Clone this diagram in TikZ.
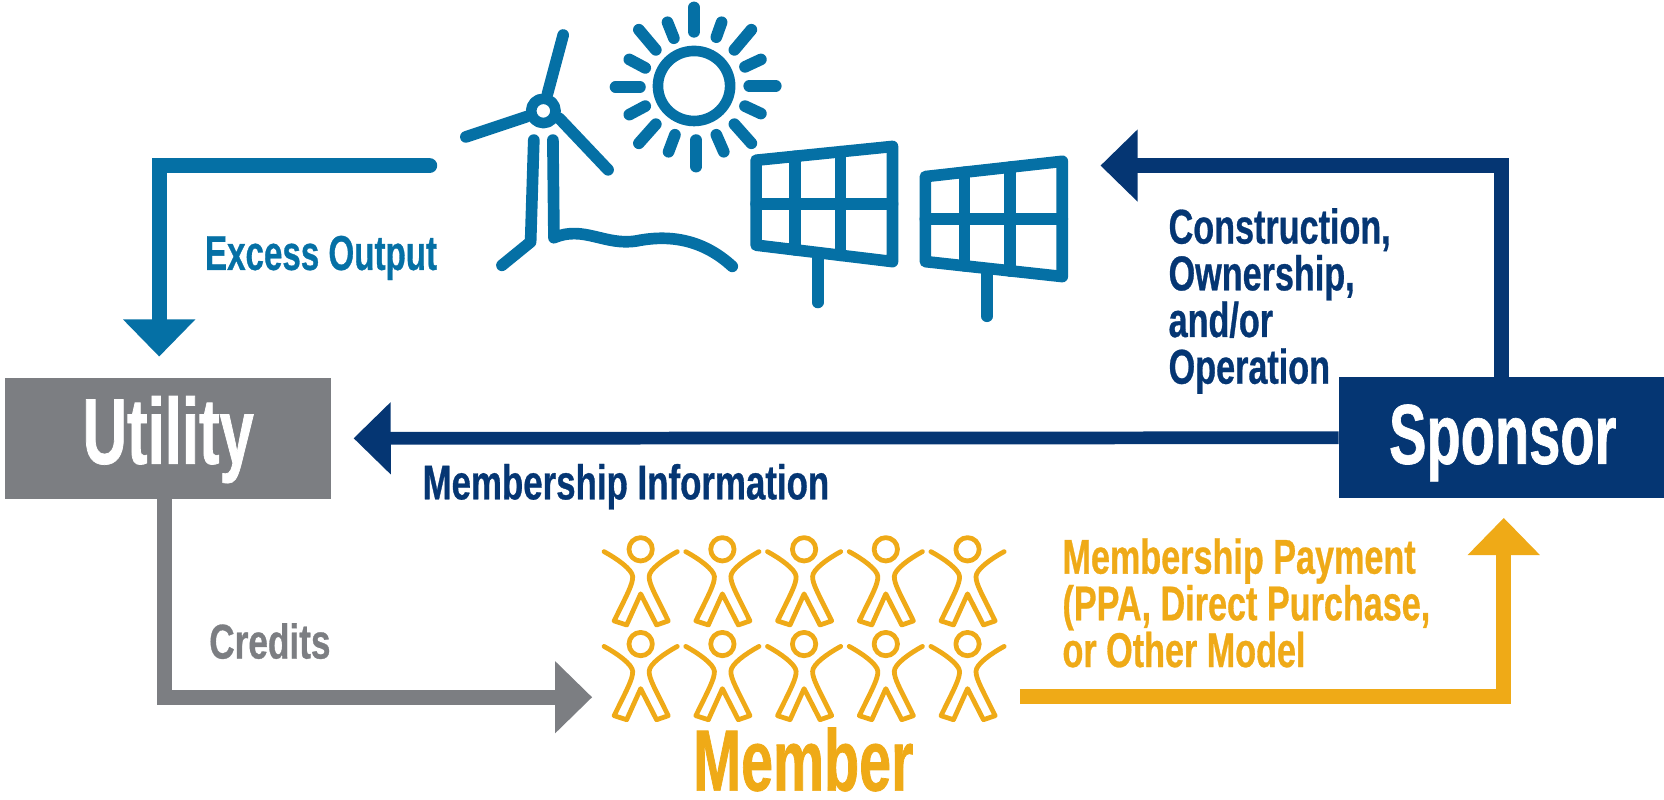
\documentclass[tikz,border=0pt]{standalone}
\usepackage{fontspec}
\usetikzlibrary{arrows.meta}

\newfontfamily\labelfont[FakeStretch=0.70,FakeBold=0.6]{Liberation Sans}
\newfontfamily\titlefont[FakeStretch=0.66,FakeBold=0.8]{Liberation Sans}

\definecolor{utilitygray}{HTML}{7C7E82}
\definecolor{sponsorblue}{HTML}{053673}
\definecolor{energyblue}{HTML}{0570A5}
\definecolor{membergold}{HTML}{EFAA17}

\tikzset{
  flow/.style={line width=#1, -{Triangle[length=35pt,width=66pt]}},
  flow/.default=14pt,
  boxnode/.style={minimum width=307pt, minimum height=114pt, inner sep=0pt, text=white},
  arrowlabel/.style={anchor=north west, inner sep=0pt, align=left, font=\labelfont\bfseries\fontsize{46}{44}\selectfont},
  titletext/.style={font=\titlefont\bfseries\fontsize{#1}{#1}\selectfont},
  icon/.style={energyblue, line width=11pt, line cap=round, line join=round},
  person/.style={membergold, line width=4.5pt, line join=round, line cap=round}
}

\newcommand{\personicon}[2]{
  \draw [person, shift={(#1,#2)}] (0,0) circle [radius=11pt];
  \draw [person, shift={(#1,#2)}] (-34.5,2.2) .. controls (-22,9) and (-8,19) .. (-7.5,25.7)
     .. controls (-7.5,33) and (-12,41) .. (-25,67.5) -- (-13.2,71.3) -- (0,42) -- (15,71.3) -- (26,67.5)
     .. controls (13,41) and (8,33) .. (8,25.7) .. controls (8,19) and (22,9) .. (34.5,2.2);
}

\begin{document}
\begin{tikzpicture}[x=1pt, y=-1pt]

\useasboundingbox (0,0) rectangle (1568,753);

% boxes
\node (utility) [boxnode, fill=utilitygray] at (158.5,413) {};
\node (sponsor) [boxnode, fill=sponsorblue] at (1415,412.5) {};
\node (utilitytext) [titletext=88, text=white, inner sep=0pt, anchor=base] at (158.5,437) {Utility};
\node (sponsortext) [titletext=80, text=white, inner sep=0pt, anchor=base] at (1416,437) {Sponsor};
\node (member) [titletext=82, text=membergold, inner sep=0pt, anchor=base] at (757,745) {Member};

% free ends of the arrows
\coordinate (windend) at (412,156);
\coordinate (excessend) at (150,336);
\coordinate (panelsend) at (1037,156);
\coordinate (creditstart) at (155,470);
\coordinate (creditend) at (558,657);
\coordinate (paystart) at (961,656);
\coordinate (payend) at (1417,488);

% arrows
\draw [flow, energyblue, {Round Cap[]}-{Triangle[length=35pt,width=66pt]}] (windend) -| (excessend);
\draw [flow, sponsorblue] (sponsor.north) |- (panelsend);
\draw [flow=12pt, sponsorblue, shorten >=21pt] (sponsor.west) -- (utility.east);
\draw [flow, utilitygray] (creditstart) |- (creditend);
\draw [flow, membergold] (paystart) -| (payend);

% labels
\node (excesslabel) [arrowlabel, text=energyblue, xscale=0.97] at (193,222) {Excess Output};
\node (buildlabel) [arrowlabel, text=sponsorblue] at (1101,196) {Construction,\\Ownership,\\and/or\\Operation};
\node (infolabel) [arrowlabel, text=sponsorblue, xscale=1.02] at (398,437) {Membership Information};
\node (creditslabel) [arrowlabel, text=utilitygray, xscale=1.03] at (197,587) {Credits};
\node (paylabel) [arrowlabel, text=membergold] at (1001,507) {Membership Payment\\(PPA, Direct Purchase,\\or Other Model};

% sun
\draw [icon, line width=10pt] (654,81) ellipse [x radius=34pt, y radius=33pt];
\draw [icon] (654,30) -- (654,7);
\draw [icon] (675,35) -- (680,21);
\draw [icon] (692,47) -- (708,28);
\draw [icon] (702,63) -- (717,56);
\draw [icon] (706,81) -- (731,81);
\draw [icon] (702,100) -- (717,107);
\draw [icon] (692,117) -- (708,135);
\draw [icon] (675,127) -- (682,143);
\draw [icon] (656,132) -- (656,157);
\draw [icon] (636,127) -- (630,143);
\draw [icon] (618,117) -- (602,135);
\draw [icon] (608,100) -- (593,108);
\draw [icon] (603,82) -- (580,82);
\draw [icon] (608,64) -- (593,56);
\draw [icon] (618,47) -- (602,28);
\draw [icon] (635,36) -- (629,21);

% wind turbine
\draw [icon, line width=10pt] (512,104.5) circle [radius=11.5pt];
\draw [icon] (516,88) -- (530.7,33);
\draw [icon] (496,110) -- (439,129);
\draw [icon] (527,111.5) -- (573,160);
\draw [icon] (503,132) -- (500,228) -- (473,250);
\draw [icon] (521,132) -- (522,224) .. controls (550,212) and (570,232) .. (600,227)
   .. controls (635,220) and (665,228) .. (690,251);

% solar panels
\draw [icon] (712.5,151) -- (841,138) -- (841,246.5) -- (712.5,231) -- cycle;
\draw [icon] (749,147.3) -- (749,235.4);
\draw [icon] (792,143) -- (792,240.6);
\draw [icon] (712.5,192) -- (841,192);
\draw [icon] (770.6,242) -- (770.6,285);

\draw [icon] (872,166.4) -- (1001,152) -- (1001,260.6) -- (872,246.5) -- cycle;
\draw [icon] (908.7,162.3) -- (908.7,250.5);
\draw [icon] (951.6,157.5) -- (951.6,255.4);
\draw [icon] (872,206.6) -- (1001,206.6);
\draw [icon] (930,255) -- (930,298);

% members
\personicon{603.7}{517.6}
\personicon{680.7}{517.6}
\personicon{757.7}{517.6}
\personicon{834.7}{517.6}
\personicon{911.7}{517.6}
\personicon{603.7}{606.9}
\personicon{680.7}{606.9}
\personicon{757.7}{606.9}
\personicon{834.7}{606.9}
\personicon{911.7}{606.9}

\end{tikzpicture}
\end{document}
